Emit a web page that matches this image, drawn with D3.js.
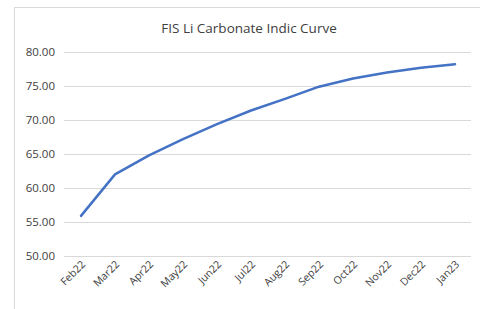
<!DOCTYPE html>
<html>
<head>
<meta charset="utf-8">
<script src="https://cdn.jsdelivr.net/npm/d3@7.9.0/dist/d3.min.js"></script>
<style>
  html, body { margin: 0; padding: 0; background: #fff; }
  svg { display: block; font-family: "Open Sans", "Liberation Sans", sans-serif; }
</style>
</head>
<body>
<svg id="chart" width="480" height="309"></svg>
<script>
const title  = 'FIS Li Carbonate Indic Curve';
const months = ['Feb22', 'Mar22', 'Apr22', 'May22', 'Jun22', 'Jul22',
                'Aug22', 'Sep22', 'Oct22', 'Nov22', 'Dec22', 'Jan23'];
const prices = [55.9, 62.0, 64.8, 67.2, 69.4, 71.4,
                73.1, 74.9, 76.1, 77.0, 77.7, 78.2];
const yTicks = [50, 55, 60, 65, 70, 75, 80];

const svg = d3.select('#chart');

// chart area frame (Excel style)
svg.append('rect')
   .attr('x', 14.5).attr('y', 7.5)
   .attr('width', 480).attr('height', 320)
   .attr('fill', '#fff')
   .attr('stroke', '#d9d9d9');

const x = d3.scalePoint()
  .domain(months)
  .range([81, 455]);

const y = d3.scaleLinear()
  .domain([50, 80])
  .range([256, 52]);

// gridlines
svg.append('g')
  .selectAll('line')
  .data(yTicks)
  .join('line')
    .attr('x1', 64).attr('x2', 471)
    .attr('y1', d => Math.round(y(d)) + 0.5)
    .attr('y2', d => Math.round(y(d)) + 0.5)
    .attr('stroke', '#d9d9d9')
    .attr('stroke-width', 1);

// y labels
svg.append('g')
  .selectAll('text')
  .data(yTicks)
  .join('text')
    .attr('x', 55)
    .attr('y', d => y(d))
    .attr('dy', '0.35em')
    .attr('text-anchor', 'end')
    .attr('font-size', 11.5)
    .attr('fill', '#404040')
    .text(d3.format('.2f'));

// x labels, rotated
svg.append('g')
  .selectAll('text')
  .data(months)
  .join('text')
    .attr('transform', d => `translate(${x(d) + 5},${265}) rotate(-45)`)
    .attr('text-anchor', 'end')
    .attr('font-size', 10.5)
    .attr('fill', '#404040')
    .text(d => d);

// the curve
const line = d3.line()
  .x((d, i) => x(months[i]))
  .y(d => y(d));

svg.append('path')
   .datum(prices)
   .attr('d', line)
   .attr('fill', 'none')
   .attr('stroke', '#4472c4')
   .attr('stroke-width', 2.5)
   .attr('stroke-linejoin', 'round')
   .attr('stroke-linecap', 'round');

svg.append('text')
   .attr('x', 249)
   .attr('y', 33)
   .attr('text-anchor', 'middle')
   .attr('font-size', 13.5)
   .attr('fill', '#404040')
   .text(title);
</script>
</body>
</html>
